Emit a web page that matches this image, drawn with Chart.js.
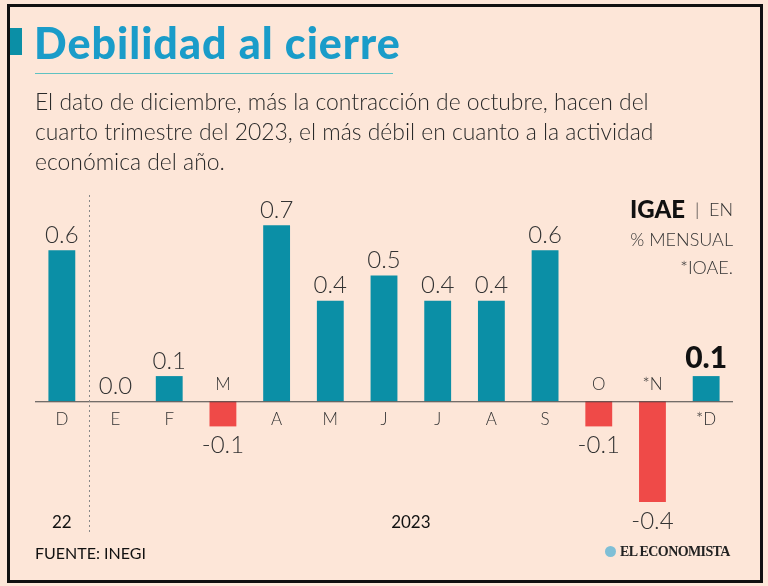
<!DOCTYPE html>
<html>
<head>
<meta charset="utf-8">
<script src="https://cdn.jsdelivr.net/npm/chart.js@4"></script>
<style>
  body { margin: 0; background: #fde6d8; }
  #wrap { position: relative; width: 768px; height: 586px; overflow: hidden; font-family: "Lato", sans-serif; }
  #frame { position: absolute; left: 7px; top: 4px; width: 750px; height: 573px; border: 3px solid #111; }
  #mark { position: absolute; left: 10px; top: 28px; width: 12px; height: 27px; background: #0b8fa6; }
  #title { position: absolute; left: 34px; top: 17px; font-size: 43px; font-weight: 900; color: #1a9cc9; letter-spacing: 1px; }
  #rule { position: absolute; left: 35px; top: 73px; width: 358px; height: 1px; background: #5fc2c2; }
  #sub { position: absolute; left: 35px; top: 86px; font-size: 22.9px; font-weight: 300; color: #2a2a2a; line-height: 30px; }
  #src { position: absolute; left: 35px; top: 543px; font-size: 16px; color: #111; }
  #logo { position: absolute; left: 605px; top: 544px; font-family: "Liberation Serif", serif; font-weight: bold; font-size: 14px; color: #222; letter-spacing: -0.6px; }
  #logo span { display: inline-block; width: 11px; height: 11px; border-radius: 50%; background: #7fbfd6; margin-right: 4px; vertical-align: -1px; }
  canvas { position: absolute; left: 0; top: 0; }
</style>
</head>
<body>
<div id="wrap">
  <canvas id="c" width="768" height="586"></canvas>
  <div id="frame"></div>
  <div id="mark"></div>
  <div id="title">Debilidad al cierre</div>
  <div id="rule"></div>
  <div id="sub">El dato de diciembre, más la contracción de octubre, hacen del<br>cuarto trimestre del 2023, el más débil en cuanto a la actividad<br>económica del año.</div>
  <div id="src">FUENTE: INEGI</div>
  <div id="logo"><span></span>EL ECONOMISTA</div>
</div>
<script>
const months = ['D', 'E', 'F', 'M', 'A', 'M', 'J', 'J', 'A', 'S', 'O', '*N', '*D'];
const values = [0.6, 0.0, 0.1, -0.1, 0.7, 0.4, 0.5, 0.4, 0.4, 0.6, -0.1, -0.4, 0.1];
const valueLabels = ['0.6', '0.0', '0.1', '-0.1', '0.7', '0.4', '0.5', '0.4', '0.4', '0.6', '-0.1', '-0.4', '0.1'];
const years = ['22', '2023'];
const noteLines = ['% MENSUAL', '*IOAE.'];

const teal = '#0b8fa6';
const red = '#ef4a48';

const labelsPlugin = {
  id: 'labels',
  afterDatasetsDraw(chart) {
    const ctx = chart.ctx;
    const x = chart.scales.x, y = chart.scales.y;
    const y0 = y.getPixelForValue(0);
    const area = chart.chartArea;
    ctx.save();

    // zero line
    ctx.strokeStyle = '#444';
    ctx.lineWidth = 1;
    ctx.beginPath();
    ctx.moveTo(area.left, y0 + 0.5);
    ctx.lineTo(area.right, y0 + 0.5);
    ctx.stroke();

    // dashed year separator
    const sep = (x.getPixelForValue(0) + x.getPixelForValue(1)) / 2;
    ctx.strokeStyle = '#888';
    ctx.setLineDash([2, 3]);
    ctx.beginPath();
    ctx.moveTo(Math.round(sep) + 0.5, 195);
    ctx.lineTo(Math.round(sep) + 0.5, 532);
    ctx.stroke();
    ctx.setLineDash([]);

    ctx.textAlign = 'center';
    values.forEach((v, i) => {
      const px = x.getPixelForValue(i);
      const py = y.getPixelForValue(v);
      ctx.fillStyle = '#333';
      ctx.font = '300 17px Lato, sans-serif';
      if (v < 0) {
        ctx.textBaseline = 'bottom';
        ctx.fillText(months[i], px, y0 - 8);
        ctx.font = '300 24px Lato, sans-serif';
        ctx.textBaseline = 'top';
        ctx.fillText(valueLabels[i], px, py + 7);
      } else {
        ctx.textBaseline = 'top';
        ctx.fillText(months[i], px, y0 + 10);
        ctx.textBaseline = 'bottom';
        if (i === values.length - 1) {
          ctx.fillStyle = '#111';
          ctx.font = '900 30px Lato, sans-serif';
          ctx.fillText(valueLabels[i], px, py - 3);
        } else {
          ctx.font = '300 24px Lato, sans-serif';
          ctx.fillText(valueLabels[i], px, py - 3);
        }
      }
    });

    // years
    ctx.fillStyle = '#111';
    ctx.font = '17px Lato, sans-serif';
    ctx.textBaseline = 'middle';
    ctx.fillText(years[0], x.getPixelForValue(0), 523);
    ctx.fillText(years[1], (x.getPixelForValue(1) + x.getPixelForValue(values.length - 1)) / 2, 523);

    // note (top right)
    ctx.textAlign = 'right';
    ctx.textBaseline = 'middle';
    ctx.fillStyle = '#333';
    ctx.font = '300 18px Lato, sans-serif';
    const rx = area.right;
    const enTxt = '  |  EN';
    const enW = ctx.measureText(enTxt).width;
    ctx.fillText(enTxt, rx, 210);
    ctx.fillStyle = '#111';
    ctx.font = '900 24px Lato, sans-serif';
    ctx.fillText('IGAE', rx - enW, 210);
    ctx.fillStyle = '#333';
    ctx.font = '300 18px Lato, sans-serif';
    noteLines.forEach((t, k) => ctx.fillText(t, rx, 240 + k * 28));

    ctx.restore();
  }
};

new Chart(document.getElementById('c'), {
  type: 'bar',
  data: {
    labels: months,
    datasets: [{
      data: values,
      backgroundColor: values.map(v => v < 0 ? red : teal),
      borderWidth: 0,
      barPercentage: 0.5,
      categoryPercentage: 1
    }]
  },
  options: {
    responsive: false,
    animation: false,
    layout: { padding: { left: 35, right: 35, top: 200, bottom: 64 } },
    plugins: { legend: { display: false }, tooltip: { enabled: false } },
    scales: {
      x: { display: false, grid: { display: false } },
      y: { display: false, min: -0.48, max: 0.8, grid: { display: false } }
    }
  },
  plugins: [labelsPlugin]
});
</script>
</body>
</html>
